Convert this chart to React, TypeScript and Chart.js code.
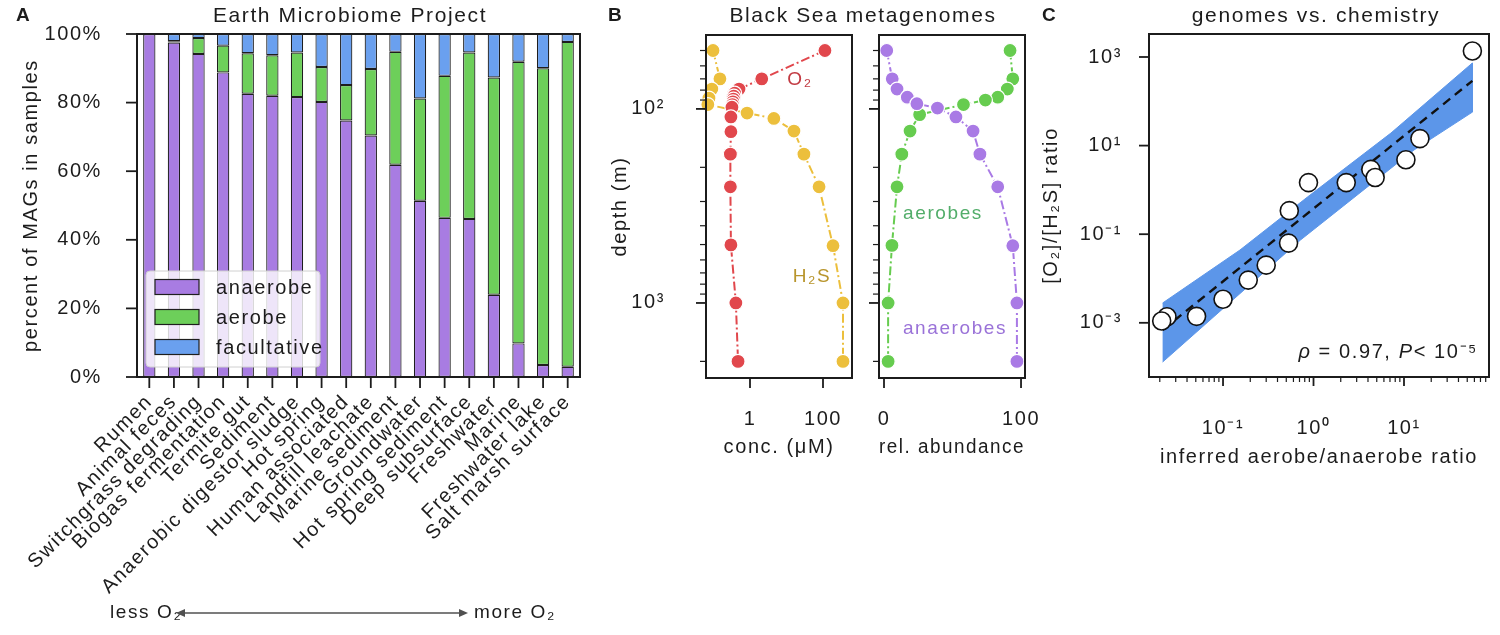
import React, { useEffect, useRef } from 'react';
import { Chart, registerables } from 'chart.js';
Chart.register(...registerables);

const W = 1500;
const H = 635;
const FONT = "'Liberation Sans', Arial, Helvetica, sans-serif";
const INK = '#1c1c1c';
const LS = '1.6px';

// ---------------- Panel A : Earth Microbiome Project ----------------
const HABITATS = ['Rumen', 'Animal feces', 'Switchgrass degrading', 'Biogas fermentation', 'Termite gut', 'Sediment', 'Anaerobic digestor sludge', 'Hot spring', 'Human associated', 'Landfill leachate', 'Marine sediment', 'Groundwater', 'Hot spring sediment', 'Deep subsurface', 'Freshwater', 'Marine', 'Freshwater lake', 'Salt marsh surface'];
const ANAEROBE = [100, 97.5, 94.2, 88.8, 82.6, 82.0, 81.6, 80.2, 74.8, 70.4, 61.9, 51.4, 46.4, 46.1, 24.0, 9.8, 3.5, 3.0];
const AEROBE = [0, 0.4, 4.6, 7.8, 11.8, 11.8, 13.0, 10.2, 10.3, 19.4, 32.9, 29.8, 41.4, 48.5, 63.3, 82.1, 86.5, 94.7];
const FACULTATIVE = [0, 2.1, 1.2, 3.4, 5.6, 6.2, 5.4, 9.6, 14.9, 10.2, 5.2, 18.8, 12.2, 5.4, 12.7, 8.1, 10.0, 2.3];
const PCT_TICKS = [0, 20, 40, 60, 80, 100];

// ---------------- Panel B : Black Sea metagenomes ----------------
const O2_CONC = [113, 2.1, 0.5, 0.38, 0.36, 0.35, 0.34, 0.33, 0.32, 0.30, 0.30, 0.29, 0.29, 0.30, 0.41, 0.47];
const O2_DEPTH = [50, 70, 79, 83, 86, 89, 92, 95, 98, 110, 131, 171, 252, 502, 1000, 2000];
const H2S_CONC = [0.097, 0.15, 0.09, 0.075, 0.07, 0.83, 4.5, 16, 30, 78, 188, 353, 353];
const H2S_DEPTH = [50, 70, 79, 88, 95, 105, 112, 130, 171, 252, 507, 1000, 2000];
const ANA_ABUND = [2, 6, 9.5, 17, 24, 39, 52.5, 65, 70, 83, 94, 97, 97];
const ANA_DEPTH = [50, 70, 79, 87, 94, 99, 110, 130, 171, 252, 507, 1000, 2000];
const AER_ABUND = [92, 94, 90, 83, 74, 58, 26, 19, 13, 9.5, 5.8, 3, 3];
const AER_DEPTH = [50, 70, 79, 87, 90, 95, 107, 130, 171, 252, 505, 1000, 2000];
const DEPTH_MAJOR = [100, 1000];
const DEPTH_LABELS = ['10²', '10³'];
const DEPTH_MINOR = [50, 60, 70, 80, 90, 200, 300, 400, 500, 600, 700, 800, 900, 2000];
const CONC_TICKS = [1, 100];
const CONC_LABELS = ['1', '100'];
const ABUND_TICKS = [0, 100];
const ABUND_LABELS = ['0', '100'];

// ---------------- Panel C : genomes vs. chemistry ----------------
const INFERRED_RATIO = [57, 15, 10.5, 4.3, 4.8, 2.3, 0.88, 0.54, 0.53, 0.30, 0.19, 0.10, 0.051, 0.024, 0.021];
const CHEM_RATIO = [1365, 14.4, 4.8, 2.9, 1.9, 1.46, 1.46, 0.34, 0.063, 0.020, 0.0092, 0.0034, 0.0014, 0.00137, 0.0011];
const FIT_X = [0.0215, 57];
const FIT_Y = [0.00069, 290];
const BAND_UPPER_X = [0.0215, 0.154, 0.857, 7.17, 57];
const BAND_UPPER_Y = [0.0028, 0.044, 0.69, 19.2, 732];
const BAND_LOWER_X = [57, 12.9, 0.718, 0.0215];
const BAND_LOWER_Y = [57, 7.96, 0.074, 0.00013];
const CX_MAJOR = [0.1, 1, 10];
const CX_LABELS = ['10⁻¹', '10⁰', '10¹'];
const CX_MINOR = [0.02, 0.03, 0.04, 0.05, 0.06, 0.07, 0.08, 0.09, 0.2, 0.3, 0.4, 0.5, 0.6, 0.7, 0.8, 0.9, 2, 3, 4, 5, 6, 7, 8, 9, 20, 30, 40, 50, 60, 70, 80];
const CY_MAJOR = [0.001, 0.1, 10, 1000];
const CY_LABELS = ['10⁻³', '10⁻¹', '10¹', '10³'];

// colours
const C_ANA = '#a87ce2';
const C_AER = '#6dcf5a';
const C_FAC = '#6aa0ef';
const C_RED = '#e1474c';
const C_YEL = '#ecbf3c';
const C_GRN = '#66cc4f';
const C_PUR = '#a97ae5';
const C_BAND = '#5c96e9';

Chart.defaults.font.family = FONT;
Chart.defaults.font.size = 20;
Chart.defaults.color = INK;

const pad = (L: number, T: number, R: number, B: number, wY: number, hX: number) => ({ left: L - wY, top: T, right: W - R, bottom: H - B - hX });
const fitY = (w: number) => (s: any) => { s.width = w; s.paddingTop = 0; s.paddingBottom = 0; s.paddingLeft = 0; s.paddingRight = 0; };
const fitX = (h: number) => (s: any) => { s.height = h; s.paddingLeft = 0; s.paddingRight = 0; s.paddingTop = 0; s.paddingBottom = 0; };
const setTicks = (vals: number[]) => (s: any) => { s.ticks = [...vals].sort((a, b) => a - b).map((v) => ({ value: v })); };
const labelFrom = (vals: number[], labels: string[]) => (v: number) => { const i = vals.indexOf(v); return i >= 0 ? labels[i] : ''; };
const pts = (xs: number[], ys: number[]) => xs.map((x, i) => ({ x, y: ys[i] }));
const hidden = { grid: { display: false }, border: { display: false } };

type TickSet = { axis: 'x' | 'y'; values: number[]; majors: number[]; majorLen: number; minorLen: number };
type Txt = { text: string; x: number; y: number; font?: string; color?: string; align?: CanvasTextAlign; baseline?: CanvasTextBaseline };

function decor(id: string, tickSets: TickSet[], texts: Txt[], extra?: (ctx: CanvasRenderingContext2D, chart: any) => void, afterDatasets?: (ctx: CanvasRenderingContext2D, chart: any) => void) {
  return {
    id,
    beforeDraw(chart: any) { (chart.ctx as any).letterSpacing = LS; },
    afterDatasetsDraw(chart: any) {
      if (!afterDatasets) return;
      const ctx = chart.ctx; ctx.save(); afterDatasets(ctx, chart); ctx.restore();
    },
    afterDraw(chart: any) {
      const ctx: CanvasRenderingContext2D = chart.ctx;
      const a = chart.chartArea;
      ctx.save();
      ctx.strokeStyle = INK;
      ctx.lineWidth = 2;
      ctx.strokeRect(a.left, a.top, a.right - a.left, a.bottom - a.top);
      for (const t of tickSets) {
        const s = chart.scales[t.axis];
        for (const v of t.values) {
          const p = s.getPixelForValue(v);
          const maj = t.majors.includes(v);
          const len = maj ? t.majorLen : t.minorLen;
          ctx.lineWidth = maj ? 1.8 : 1.2;
          ctx.beginPath();
          if (t.axis === 'x') { ctx.moveTo(p, a.bottom); ctx.lineTo(p, a.bottom + len); }
          else { ctx.moveTo(a.left, p); ctx.lineTo(a.left - len, p); }
          ctx.stroke();
        }
      }
      for (const t of texts) {
        ctx.font = t.font || `20px ${FONT}`;
        ctx.fillStyle = t.color || INK;
        ctx.textAlign = t.align || 'left';
        ctx.textBaseline = t.baseline || 'alphabetic';
        ctx.fillText(t.text, t.x, t.y);
      }
      if (extra) extra(ctx, chart);
      ctx.restore();
    },
  };
}

const barStyle = { borderColor: '#1e1e1e', borderWidth: 1.2, borderSkipped: false, barPercentage: 0.5, categoryPercentage: 1.0 };

function cfgA(): any {
  const L = 137, T = 34, R = 580, B = 377, wY = 137, hX = 240;
  return {
    type: 'bar',
    data: {
      labels: HABITATS,
      datasets: [
        { label: 'anaerobe', data: ANAEROBE, backgroundColor: C_ANA, ...barStyle },
        { label: 'aerobe', data: AEROBE, backgroundColor: C_AER, ...barStyle },
        { label: 'facultative', data: FACULTATIVE, backgroundColor: C_FAC, ...barStyle },
      ],
    },
    options: {
      responsive: false, animation: false, events: [],
      layout: { padding: pad(L, T, R, B, wY, hX) },
      plugins: { legend: { display: false }, tooltip: { enabled: false } },
      scales: {
        x: {
          stacked: true, offset: true, ...hidden,
          ticks: { autoSkip: false, maxRotation: 45, minRotation: 45, padding: 5 },
          afterFit: fitX(hX),
        },
        y: {
          stacked: true, min: 0, max: 100, bounds: 'data', ...hidden,
          ticks: { autoSkip: false, padding: 27, callback: (v: number) => `${v}%` },
          afterBuildTicks: setTicks(PCT_TICKS),
          title: { display: true, text: 'percent of MAGs in samples', padding: { top: 19, bottom: 0 } },
          afterFit: fitY(wY),
        },
      },
    },
    plugins: [decor('decorA',
      [
        { axis: 'x', values: HABITATS.map((_, i) => i), majors: HABITATS.map((_, i) => i), majorLen: 11, minorLen: 11 },
        { axis: 'y', values: PCT_TICKS, majors: PCT_TICKS, majorLen: 11, minorLen: 11 },
      ],
      [
        { text: 'A', x: 16, y: 21, font: `bold 19px ${FONT}` },
        { text: 'Earth Microbiome Project', x: 350, y: 22, font: `21px ${FONT}`, align: 'center' },
      ],
      (ctx) => {
        ctx.font = `19px ${FONT}`;
        ctx.fillStyle = INK;
        ctx.textBaseline = 'middle';
        ctx.textAlign = 'left';
        const y = 613;
        ctx.fillText('less O₂', 110, y);
        ctx.fillText('more O₂', 474, y);
        ctx.strokeStyle = '#505050';
        ctx.fillStyle = '#505050';
        ctx.lineWidth = 1.6;
        const x0 = 176, x1 = 468;
        ctx.beginPath(); ctx.moveTo(x0 + 6, y); ctx.lineTo(x1 - 6, y); ctx.stroke();
        ctx.beginPath(); ctx.moveTo(x0, y); ctx.lineTo(x0 + 9, y - 4); ctx.lineTo(x0 + 9, y + 4); ctx.closePath(); ctx.fill();
        ctx.beginPath(); ctx.moveTo(x1, y); ctx.lineTo(x1 - 9, y - 4); ctx.lineTo(x1 - 9, y + 4); ctx.closePath(); ctx.fill();
      },
      (ctx, chart) => {
        const bx = 146, by = 271, bw = 174, bh = 96, r = 4;
        ctx.beginPath();
        ctx.moveTo(bx + r, by); ctx.lineTo(bx + bw - r, by); ctx.quadraticCurveTo(bx + bw, by, bx + bw, by + r);
        ctx.lineTo(bx + bw, by + bh - r); ctx.quadraticCurveTo(bx + bw, by + bh, bx + bw - r, by + bh);
        ctx.lineTo(bx + r, by + bh); ctx.quadraticCurveTo(bx, by + bh, bx, by + bh - r);
        ctx.lineTo(bx, by + r); ctx.quadraticCurveTo(bx, by, bx + r, by); ctx.closePath();
        ctx.fillStyle = 'rgba(255,255,255,0.8)'; ctx.fill();
        ctx.strokeStyle = '#d0d0d0'; ctx.lineWidth = 1; ctx.stroke();
        chart.data.datasets.forEach((ds: any, i: number) => {
          const cy = 287 + 30 * i;
          ctx.fillStyle = ds.backgroundColor; ctx.fillRect(155, cy - 7.5, 44, 15);
          ctx.strokeStyle = ds.borderColor; ctx.lineWidth = 1.2; ctx.strokeRect(155, cy - 7.5, 44, 15);
          ctx.fillStyle = INK; ctx.font = `20px ${FONT}`; ctx.textBaseline = 'middle'; ctx.textAlign = 'left';
          ctx.fillText(ds.label, 216, cy + 1);
        });
      }
    )],
  };
}

const lineSeries = (label: string, color: string, data: any[]) => ({
  label, data, showLine: true, borderColor: color, borderWidth: 2, borderDash: [9, 3, 2, 3],
  pointRadius: 7, pointBackgroundColor: color, pointBorderColor: '#ffffff', pointBorderWidth: 1.2, clip: false,
});

const depthAxis = (labels: boolean, wY: number) => ({
  type: 'logarithmic', reverse: true, min: 41.6, max: 2436, bounds: 'data', ...hidden,
  ticks: { display: labels, autoSkip: false, padding: 33, callback: labelFrom(DEPTH_MAJOR, DEPTH_LABELS) },
  afterBuildTicks: setTicks([...DEPTH_MAJOR, ...DEPTH_MINOR]),
  title: { display: labels, text: 'depth (m)', padding: { top: 18, bottom: 0 } },
  afterFit: fitY(wY),
});

function cfgB1(): any {
  const L = 706, T = 35, R = 852, B = 378, wY = 116, hX = 81;
  return {
    type: 'scatter',
    data: { datasets: [lineSeries('O₂', C_RED, pts(O2_CONC, O2_DEPTH)), lineSeries('H₂S', C_YEL, pts(H2S_CONC, H2S_DEPTH))] },
    options: {
      responsive: false, animation: false, events: [],
      layout: { padding: pad(L, T, R, B, wY, hX) },
      plugins: { legend: { display: false }, tooltip: { enabled: false } },
      scales: {
        x: {
          type: 'logarithmic', min: 0.0623, max: 623, bounds: 'data', ...hidden,
          ticks: { autoSkip: false, maxRotation: 0, minRotation: 0, padding: 21, callback: labelFrom(CONC_TICKS, CONC_LABELS) },
          afterBuildTicks: setTicks(CONC_TICKS),
          title: { display: true, text: 'conc. (μM)', padding: { top: 0, bottom: 0 } },
          afterFit: fitX(hX),
        },
        y: depthAxis(true, wY),
      },
    },
    plugins: [decor('decorB1',
      [
        { axis: 'x', values: CONC_TICKS, majors: CONC_TICKS, majorLen: 10, minorLen: 6 },
        { axis: 'y', values: [...DEPTH_MAJOR, ...DEPTH_MINOR], majors: DEPTH_MAJOR, majorLen: 10, minorLen: 6 },
      ],
      [
        { text: 'B', x: 608, y: 21, font: `bold 19px ${FONT}` },
        { text: 'Black Sea metagenomes', x: 863, y: 22, font: `21px ${FONT}`, align: 'center' },
        { text: 'O₂', x: 800, y: 80, font: `19px ${FONT}`, color: '#c23a42', align: 'center', baseline: 'middle' },
        { text: 'H₂S', x: 812, y: 277, font: `19px ${FONT}`, color: '#b8952c', align: 'center', baseline: 'middle' },
      ]
    )],
  };
}

function cfgB2(): any {
  const L = 879, T = 35, R = 1025, B = 378, wY = 14, hX = 81;
  return {
    type: 'scatter',
    data: { datasets: [lineSeries('anaerobes', C_PUR, pts(ANA_ABUND, ANA_DEPTH)), lineSeries('aerobes', C_GRN, pts(AER_ABUND, AER_DEPTH))] },
    options: {
      responsive: false, animation: false, events: [],
      layout: { padding: pad(L, T, R, B, wY, hX) },
      plugins: { legend: { display: false }, tooltip: { enabled: false } },
      scales: {
        x: {
          type: 'linear', min: -3.65, max: 102.9, bounds: 'data', ...hidden,
          ticks: { autoSkip: false, maxRotation: 0, minRotation: 0, padding: 21, callback: labelFrom(ABUND_TICKS, ABUND_LABELS) },
          afterBuildTicks: setTicks(ABUND_TICKS),
          title: { display: true, text: 'rel. abundance', padding: { top: 0, bottom: 0 } },
          afterFit: fitX(hX),
        },
        y: depthAxis(false, wY),
      },
    },
    plugins: [decor('decorB2',
      [
        { axis: 'x', values: ABUND_TICKS, majors: ABUND_TICKS, majorLen: 10, minorLen: 6 },
        { axis: 'y', values: [...DEPTH_MAJOR, ...DEPTH_MINOR], majors: DEPTH_MAJOR, majorLen: 10, minorLen: 6 },
      ],
      [
        { text: 'aerobes', x: 943, y: 214, font: `19px ${FONT}`, color: '#52ad6a', align: 'center', baseline: 'middle' },
        { text: 'anaerobes', x: 955, y: 329, font: `19px ${FONT}`, color: '#9a72d8', align: 'center', baseline: 'middle' },
      ]
    )],
  };
}

function cfgC(): any {
  const L = 1149, T = 34, R = 1489, B = 377, wY = 129, hX = 92;
  const band = [...pts(BAND_UPPER_X, BAND_UPPER_Y), ...pts(BAND_LOWER_X, BAND_LOWER_Y)];
  return {
    type: 'scatter',
    data: {
      datasets: [
        { label: 'samples', data: pts(INFERRED_RATIO, CHEM_RATIO), pointRadius: 9, pointBackgroundColor: '#ffffff', pointBorderColor: '#111111', pointBorderWidth: 1.6, clip: false },
        { label: 'fit', data: pts(FIT_X, FIT_Y), showLine: true, borderColor: '#111111', borderWidth: 2.4, borderDash: [9, 6], pointRadius: 0 },
        { label: 'bootstrap', data: band, showLine: true, fill: 'shape', backgroundColor: C_BAND, borderColor: C_BAND, borderWidth: 1, pointRadius: 0 },
      ],
    },
    options: {
      responsive: false, animation: false, events: [],
      layout: { padding: pad(L, T, R, B, wY, hX) },
      plugins: { legend: { display: false }, tooltip: { enabled: false } },
      scales: {
        x: {
          type: 'logarithmic', min: 0.0152, max: 87, bounds: 'data', ...hidden,
          ticks: { autoSkip: false, maxRotation: 0, minRotation: 0, padding: 31, callback: labelFrom(CX_MAJOR, CX_LABELS) },
          afterBuildTicks: setTicks([...CX_MAJOR, ...CX_MINOR]),
          title: { display: true, text: 'inferred aerobe/anaerobe ratio', padding: { top: 0, bottom: 0 } },
          afterFit: fitX(hX),
        },
        y: {
          type: 'logarithmic', min: 0.0000598, max: 3304, bounds: 'data', ...hidden,
          ticks: { autoSkip: false, padding: 19, callback: labelFrom(CY_MAJOR, CY_LABELS) },
          afterBuildTicks: setTicks(CY_MAJOR),
          title: { display: true, text: '[O₂]/[H₂S] ratio', padding: { top: 19, bottom: 0 } },
          afterFit: fitY(wY),
        },
      },
    },
    plugins: [decor('decorC',
      [
        { axis: 'x', values: [...CX_MAJOR, ...CX_MINOR], majors: CX_MAJOR, majorLen: 9, minorLen: 5 },
        { axis: 'y', values: CY_MAJOR, majors: CY_MAJOR, majorLen: 10, minorLen: 5 },
      ],
      [
        { text: 'C', x: 1042, y: 21, font: `bold 19px ${FONT}` },
        { text: 'genomes vs. chemistry', x: 1316, y: 22, font: `21px ${FONT}`, align: 'center' },
      ],
      (ctx) => {
        const runs = [
          { t: 'ρ', it: true }, { t: ' = 0.97, ', it: false }, { t: 'P', it: true }, { t: '< 10⁻⁵', it: false },
        ];
        const f = (it: boolean) => `${it ? 'italic ' : ''}20px ${FONT}`;
        let total = 0;
        for (const r of runs) { ctx.font = f(r.it); total += ctx.measureText(r.t).width; }
        let x = 1478 - total;
        ctx.fillStyle = INK; ctx.textAlign = 'left'; ctx.textBaseline = 'alphabetic';
        for (const r of runs) { ctx.font = f(r.it); ctx.fillText(r.t, x, 358); x += ctx.measureText(r.t).width; }
      }
    )],
  };
}

export default function App() {
  const refA = useRef<HTMLCanvasElement>(null);
  const refB1 = useRef<HTMLCanvasElement>(null);
  const refB2 = useRef<HTMLCanvasElement>(null);
  const refC = useRef<HTMLCanvasElement>(null);

  useEffect(() => {
    const charts = [
      new Chart(refA.current as HTMLCanvasElement, cfgA()),
      new Chart(refB1.current as HTMLCanvasElement, cfgB1()),
      new Chart(refB2.current as HTMLCanvasElement, cfgB2()),
      new Chart(refC.current as HTMLCanvasElement, cfgC()),
    ];
    return () => charts.forEach((c) => c.destroy());
  }, []);

  const st: React.CSSProperties = { position: 'absolute', left: 0, top: 0, width: W, height: H };
  return (
    <div style={{ position: 'absolute', left: 0, top: 0, width: W, height: H, background: '#ffffff', overflow: 'hidden' }}>
      <canvas ref={refA} width={W} height={H} style={st} />
      <canvas ref={refB1} width={W} height={H} style={st} />
      <canvas ref={refB2} width={W} height={H} style={st} />
      <canvas ref={refC} width={W} height={H} style={st} />
    </div>
  );
}
